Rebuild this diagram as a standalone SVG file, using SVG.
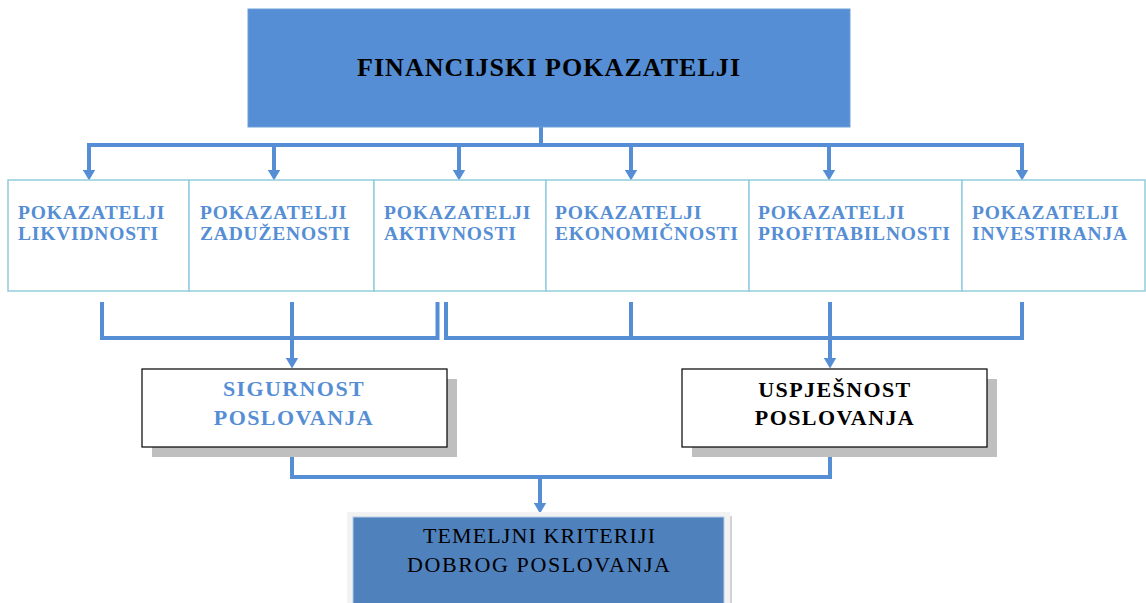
<svg xmlns="http://www.w3.org/2000/svg" width="1146" height="603" viewBox="0 0 1146 603">
<style>
.ln{fill:none;stroke:#558ED5;stroke-width:4;}
.arr{fill:none;stroke:#558ED5;stroke-width:4;marker-end:url(#ah);}
.cell{fill:#fff;stroke:#93CDDD;stroke-width:1.5;}
.ct{font-family:"Liberation Serif","Times New Roman",serif;font-weight:bold;font-size:19.5px;fill:#558ED5;letter-spacing:0.8px;}
.mt{font-family:"Liberation Serif","Times New Roman",serif;font-weight:bold;font-size:22px;letter-spacing:1.4px;text-anchor:middle;}
.box{fill:#fff;stroke:#000;stroke-width:1.2;}
.sh{fill:#BFBFBF;}
</style>
<defs>
<marker id="ah" viewBox="0 0 11 13" refX="0.5" refY="6.5" markerWidth="11" markerHeight="13" markerUnits="userSpaceOnUse" orient="auto">
<path d="M0,0 L11,6.5 L0,13 Z" fill="#558ED5"/>
</marker>
</defs>
<rect width="1146" height="603" fill="#fff"/>

<g id="connectors">
<path class="ln" d="M541,127 V145"/>
<path class="ln" d="M89,170 V145 H1022 V170"/>
<path class="arr" d="M89,145 V170"/>
<path class="arr" d="M274,145 V170"/>
<path class="arr" d="M459,145 V170"/>
<path class="arr" d="M631,145 V170"/>
<path class="arr" d="M829,145 V170"/>
<path class="arr" d="M1022,145 V170"/>
<path class="ln" d="M102,302 V338 H437.5 V302"/>
<path class="ln" d="M292,302 V338"/>
<path class="arr" d="M292,338 V358"/>
<path class="ln" d="M446,302 V338 H1022 V302"/>
<path class="ln" d="M631,302 V338"/>
<path class="ln" d="M830,302 V338"/>
<path class="arr" d="M830,338 V358"/>
<path class="ln" d="M292,447 V477 H830 V447"/>
<path class="arr" d="M540,477 V503"/>
</g>

<g id="financijski">
<rect x="248" y="9" width="602" height="118" fill="#558ED5" stroke="#6FA0DC" stroke-width="1"/>
<text x="548.5" y="76" text-anchor="middle" textLength="383" lengthAdjust="spacing" font-family="'Liberation Serif','Times New Roman',serif" font-weight="bold" font-size="26" fill="#000">FINANCIJSKI POKAZATELJI</text>
</g>

<g id="likvidnost">
<rect class="cell" x="8" y="180" width="181" height="111"/>
<text class="ct" x="18" y="219">POKAZATELJI</text>
<text class="ct" x="18" y="240">LIKVIDNOSTI</text>
</g>
<g id="zaduzenost">
<rect class="cell" x="189" y="180" width="185" height="111"/>
<text class="ct" x="200" y="219">POKAZATELJI</text>
<text class="ct" x="200" y="240">ZADUŽENOSTI</text>
</g>
<g id="aktivnost">
<rect class="cell" x="374" y="180" width="172" height="111"/>
<text class="ct" x="384" y="219">POKAZATELJI</text>
<text class="ct" x="384" y="240">AKTIVNOSTI</text>
</g>
<g id="ekonomicnost">
<rect class="cell" x="546" y="180" width="203" height="111"/>
<text class="ct" x="555" y="219">POKAZATELJI</text>
<text class="ct" x="555" y="240">EKONOMIČNOSTI</text>
</g>
<g id="profitabilnost">
<rect class="cell" x="749" y="180" width="213" height="111"/>
<text class="ct" x="758" y="219">POKAZATELJI</text>
<text class="ct" x="758" y="240">PROFITABILNOSTI</text>
</g>
<g id="investiranje">
<rect class="cell" x="962" y="180" width="183" height="111"/>
<text class="ct" x="972" y="219">POKAZATELJI</text>
<text class="ct" x="972" y="240">INVESTIRANJA</text>
</g>

<g id="sigurnost">
<rect class="sh" x="152" y="379" width="305" height="78"/>
<rect class="box" x="142" y="369" width="305" height="78"/>
<text class="mt" x="294" y="396" fill="#558ED5">SIGURNOST</text>
<text class="mt" x="294" y="425" fill="#558ED5">POSLOVANJA</text>
</g>

<g id="uspjesnost">
<rect class="sh" x="692" y="379" width="305" height="78"/>
<rect class="box" x="682" y="369" width="305" height="78"/>
<text class="mt" x="835" y="397" fill="#000">USPJEŠNOST</text>
<text class="mt" x="835" y="425" fill="#000">POSLOVANJA</text>
</g>

<g id="temeljni">
<rect x="347" y="512" width="383" height="95" fill="#F2F2F2"/>
<rect x="353" y="517" width="371" height="90" fill="#4F81BD" stroke="#B8CCE4" stroke-width="1"/>
<line x1="731" y1="516" x2="731" y2="603" stroke="#A6A6A6" stroke-width="1"/>
<text x="539" y="543" text-anchor="middle" textLength="232" lengthAdjust="spacing" font-family="'Liberation Serif','Times New Roman',serif" font-size="22" fill="#000">TEMELJNI KRITERIJI</text>
<text x="538.5" y="572" text-anchor="middle" textLength="263" lengthAdjust="spacing" font-family="'Liberation Serif','Times New Roman',serif" font-size="22" fill="#000">DOBROG POSLOVANJA</text>
</g>
</svg>
